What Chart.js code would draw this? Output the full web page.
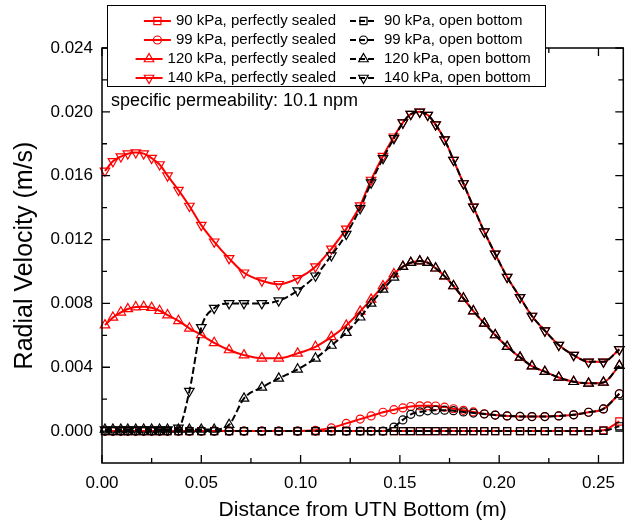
<!DOCTYPE html>
<html><head><meta charset="utf-8">
<script src="https://cdn.jsdelivr.net/npm/chart.js@4.4.0/dist/chart.umd.min.js"></script>
<style>html,body{margin:0;padding:0;background:#fff}#wrap{width:630px;height:527px;position:relative}</style>
</head><body><div id="wrap"><canvas id="c" width="630" height="527"></canvas></div>
<script>
const distance = [0.0015,0.0055,0.0095,0.013,0.017,0.021,0.025,0.029,0.033,0.0385,0.044,0.05,0.0565,0.064,0.0715,0.0805,0.089,0.0985,0.1075,0.1155,0.123,0.13,0.1355,0.1415,0.147,0.1515,0.1555,0.16,0.164,0.168,0.1725,0.177,0.182,0.187,0.1925,0.198,0.204,0.2105,0.2165,0.223,0.23,0.2375,0.245,0.2525,0.2605];

const sealed90 = [0,0,0,0,0,0,0,0,0,0,0,0,0,0,0,0,0,0,0,0,0,0,0,0,0,0,0,0,0,0,0,0,0,0,0,0,0,0,0,0,0,0,0,0.00005,0.0006];
const open90   = [0,0,0,0,0,0,0,0,0,0,0,0,0,0,0,0,0,0,0,0,0,0,0,0,0,0,0,0,0,0,0,0,0,0,0,0,0,0,0,0,0,0,0,0.00002,0.0003];

const sealed99 = [0,0,0,0,0,0,0,0,0,0,0,0,0,0,0,0,0,0,0.00005,0.0002,0.00048,0.00075,0.00095,0.00118,0.00134,0.00145,0.00154,0.00158,0.00158,0.00157,0.0015,0.0014,0.0013,0.0012,0.00108,0.001,0.00095,0.00092,0.00091,0.00091,0.00095,0.00102,0.00118,0.00139,0.00234];
const open99   = [0,0,0,0,0,0,0,0,0,0,0,0,0,0,0,0,0,0,0,0,0,0,0,0,0.00025,0.0007,0.00105,0.0012,0.00127,0.00131,0.00131,0.00128,0.0012,0.00113,0.00107,0.001,0.00095,0.00092,0.00091,0.00091,0.00095,0.00102,0.00118,0.00139,0.00234];

const sealed120 = [0.00664,0.00712,0.00744,0.00765,0.00777,0.00779,0.00773,0.00754,0.00727,0.00691,0.00644,0.00602,0.00553,0.00508,0.00476,0.00456,0.00456,0.00487,0.00528,0.0059,0.00662,0.0075,0.00825,0.00909,0.00984,0.0103,0.01055,0.01065,0.01055,0.0102,0.00971,0.00909,0.00832,0.00752,0.00675,0.00602,0.00529,0.00462,0.00407,0.00372,0.00336,0.00309,0.00299,0.00305,0.0041];
const open120   = [0.0001,0.0001,0.0001,0.0001,0.0001,0.0001,0.0001,0.0001,0.0001,0.0001,0.0001,0.0001,0.0001,0.0004,0.00205,0.00274,0.0033,0.00387,0.00456,0.00536,0.00617,0.00713,0.008,0.00888,0.00963,0.0103,0.01055,0.01065,0.01055,0.0102,0.00971,0.00909,0.00832,0.00752,0.00675,0.00602,0.00529,0.00462,0.00407,0.00372,0.00336,0.00309,0.00299,0.00305,0.0041];

const sealed140 = [0.0163,0.0169,0.0172,0.01738,0.01745,0.01738,0.0171,0.0167,0.016,0.0151,0.0141,0.0129,0.01186,0.01082,0.00992,0.00942,0.0092,0.00957,0.0103,0.01142,0.01267,0.01413,0.01573,0.01723,0.01844,0.01932,0.01986,0.02,0.0198,0.0192,0.01826,0.01698,0.01551,0.01405,0.01249,0.0111,0.00965,0.00838,0.00721,0.00629,0.00539,0.00476,0.00434,0.00434,0.00512];
const open140   = [0.0001,0.0001,0.0001,0.0001,0.0001,0.0001,0.0001,0.0001,0.0001,0.0002,0.0025,0.0065,0.0077,0.008,0.008,0.008,0.00817,0.0088,0.00973,0.011,0.01234,0.01395,0.01556,0.01709,0.01834,0.01932,0.01986,0.02,0.0198,0.0192,0.01826,0.01698,0.01551,0.01405,0.01249,0.0111,0.00965,0.00838,0.00721,0.00629,0.00539,0.00476,0.00434,0.00434,0.00512];

const xTickValues = [0, 0.05, 0.10, 0.15, 0.20, 0.25];
const xTickLabels = ['0.00','0.05','0.10','0.15','0.20','0.25'];
const yTickValues = [0, 0.004, 0.008, 0.012, 0.016, 0.020, 0.024];
const yTickLabels = ['0.000','0.004','0.008','0.012','0.016','0.020','0.024'];

const FONT = "'Liberation Sans', Arial, Helvetica, sans-serif";
const RED = '#ff0000';
const BLACK = '#000000';

function pts(ys){ return distance.map((x,i)=>({x:x, y:ys[i]})); }

function sealedDs(label, ys, style, rot, r){
  return {label, data: pts(ys), borderColor: RED, borderWidth: 2, backgroundColor: 'rgba(0,0,0,0)',
    pointStyle: style, pointRotation: rot, pointRadius: r, pointBorderColor: RED, pointBorderWidth: 1.2,
    pointBackgroundColor: 'rgba(0,0,0,0)', cubicInterpolationMode: 'monotone', order: 2, clip: false};
}
function openDs(label, ys, style, rot, r){
  return {label, data: pts(ys), borderColor: BLACK, borderWidth: 2, borderDash: [7,3], backgroundColor: 'rgba(0,0,0,0)',
    pointStyle: style, pointRotation: rot, pointRadius: r, pointBorderColor: BLACK, pointBorderWidth: 1.2,
    pointBackgroundColor: 'rgba(0,0,0,0)', cubicInterpolationMode: 'monotone', order: 1, clip: false};
}

const datasets = [
  sealedDs('90 kPa, perfectly sealed', sealed90, 'rect', 0, 5),
  sealedDs('99 kPa, perfectly sealed', sealed99, 'circle', 0, 4),
  sealedDs('120 kPa, perfectly sealed', sealed120, 'triangle', 0, 5.5),
  sealedDs('140 kPa, perfectly sealed', sealed140, 'triangle', 180, 5.5),
  openDs('90 kPa, open bottom', open90, 'rect', 0, 5),
  openDs('99 kPa, open bottom', open99, 'circle', 0, 4),
  openDs('120 kPa, open bottom', open120, 'triangle', 0, 5.5),
  openDs('140 kPa, open bottom', open140, 'triangle', 180, 5.5)
];

function drawMarker(ctx, style, rot, r, x, y, color){
  ctx.save();
  ctx.strokeStyle = color; ctx.lineWidth = 1.2; ctx.setLineDash([]);
  ctx.beginPath();
  if (style === 'rect') {
    const s = r * Math.SQRT1_2;
    ctx.rect(x - s, y - s, 2*s, 2*s);
  } else if (style === 'circle') {
    ctx.arc(x, y, r, 0, Math.PI*2);
  } else {
    const a = rot * Math.PI/180;
    for (let k=0;k<3;k++){
      const ang = a - Math.PI/2 + k*2*Math.PI/3;
      const px = x + r*Math.cos(ang), py = y + r*Math.sin(ang);
      if (k===0) ctx.moveTo(px,py); else ctx.lineTo(px,py);
    }
    ctx.closePath();
  }
  ctx.stroke();
  ctx.restore();
}

const framePlugin = {
  id: 'frame',
  afterDatasetsDraw(chart){
    const {ctx, chartArea: a, scales: {x, y}} = chart;
    ctx.save();
    ctx.strokeStyle = '#000'; ctx.lineWidth = 1.5; ctx.setLineDash([]);
    ctx.strokeRect(a.left, a.top, a.right - a.left, a.bottom - a.top);
    ctx.lineWidth = 1.3;
    ctx.beginPath();
    const MAJ = 8, MIN = 5;
    for (let i = 0; i < xTickValues.length; i++) {
      const v = xTickValues[i];
      const px = x.getPixelForValue(v);
      ctx.moveTo(px, a.bottom); ctx.lineTo(px, a.bottom - MAJ);
      ctx.moveTo(px, a.top); ctx.lineTo(px, a.top + MAJ);
      const mv = v + 0.025;
      if (mv < x.max) {
        const mp = x.getPixelForValue(mv);
        ctx.moveTo(mp, a.bottom); ctx.lineTo(mp, a.bottom - MIN);
        ctx.moveTo(mp, a.top); ctx.lineTo(mp, a.top + MIN);
      }
    }
    for (let i = 0; i < yTickValues.length; i++) {
      const v = yTickValues[i];
      const py = y.getPixelForValue(v);
      ctx.moveTo(a.left, py); ctx.lineTo(a.left + MAJ, py);
      ctx.moveTo(a.right, py); ctx.lineTo(a.right - MAJ, py);
      const mv = v - 0.002;
      if (mv > y.min) {
        const mp = y.getPixelForValue(mv);
        ctx.moveTo(a.left, mp); ctx.lineTo(a.left + MIN, mp);
        ctx.moveTo(a.right, mp); ctx.lineTo(a.right - MIN, mp);
      }
    }
    ctx.stroke();
    ctx.restore();
  }
};

const legendPlugin = {
  id: 'customLegend',
  afterDraw(chart){
    const ctx = chart.ctx;
    ctx.save();
    ctx.fillStyle = '#fff';
    ctx.fillRect(107, 5, 438, 81);
    ctx.strokeStyle = '#000'; ctx.lineWidth = 1;
    ctx.strokeRect(107.5, 5.5, 438, 81);
    ctx.font = '15px ' + FONT;
    ctx.fillStyle = '#000';
    ctx.textBaseline = 'middle';
    const rows = [21, 40, 59, 78];
    for (let i = 0; i < 4; i++) {
      const ds = chart.data.datasets[i];
      const yy = rows[i];
      const tw = ctx.measureText(ds.label).width;
      const textRight = 336;
      const tx = textRight - tw;
      ctx.textAlign = 'left';
      ctx.fillStyle = '#000';
      ctx.fillText(ds.label, tx, yy);
      ctx.strokeStyle = RED; ctx.lineWidth = 2; ctx.setLineDash([]);
      ctx.beginPath(); ctx.moveTo(tx - 32, yy); ctx.lineTo(tx - 5, yy); ctx.stroke();
      drawMarker(ctx, ds.pointStyle, ds.pointRotation, ds.pointRadius, tx - 18.5, yy, RED);
      const od = chart.data.datasets[i + 4];
      ctx.fillStyle = '#000';
      ctx.fillText(od.label, 384, yy);
      ctx.strokeStyle = BLACK; ctx.lineWidth = 2; ctx.setLineDash([6,3]);
      ctx.beginPath(); ctx.moveTo(350, yy); ctx.lineTo(377, yy); ctx.stroke();
      drawMarker(ctx, od.pointStyle, od.pointRotation, od.pointRadius, 363.5, yy, BLACK);
    }
    ctx.setLineDash([]);
    ctx.font = '18px ' + FONT;
    ctx.textAlign = 'left';
    ctx.fillStyle = '#000';
    ctx.fillText('specific permeability: 10.1 npm', 111, 101);
    ctx.restore();
  }
};

new Chart(document.getElementById('c'), {
  type: 'line',
  data: { datasets },
  options: {
    responsive: false, animation: false, devicePixelRatio: 1,
    layout: { padding: { top: 48, right: 3, left: 0, bottom: 0 } },
    plugins: { legend: { display: false }, tooltip: { enabled: false } },
    scales: {
      x: {
        type: 'linear', position: 'bottom', min: 0, max: 0.2625,
        grid: { display: false, drawTicks: false }, border: { display: false },
        afterBuildTicks: s => { s.ticks = xTickValues.map(v => ({ value: v })); },
        ticks: { autoSkip: false, maxRotation: 0, padding: 10, color: '#000',
          font: { family: FONT, size: 17 },
          callback: (v, i) => xTickLabels[i] },
        title: { display: true, text: 'Distance from UTN Bottom (m)', color: '#000',
          font: { family: FONT, size: 21 }, padding: { top: 0, bottom: 4 } },
        afterFit: s => { s.height = 64; }
      },
      y: {
        type: 'linear', position: 'left', min: -0.002, max: 0.024,
        grid: { display: false, drawTicks: false }, border: { display: false },
        afterBuildTicks: s => { s.ticks = yTickValues.map(v => ({ value: v })); },
        ticks: { autoSkip: false, padding: 9, color: '#000',
          font: { family: FONT, size: 17 },
          callback: (v, i) => yTickLabels[i] },
        title: { display: true, text: 'Radial Velocity (m/s)', color: '#000',
          font: { family: FONT, size: 25 }, padding: { top: 10, bottom: 0 } },
        afterFit: s => { s.width = 102; }
      }
    }
  },
  plugins: [framePlugin, legendPlugin]
});
</script>
</body></html>
